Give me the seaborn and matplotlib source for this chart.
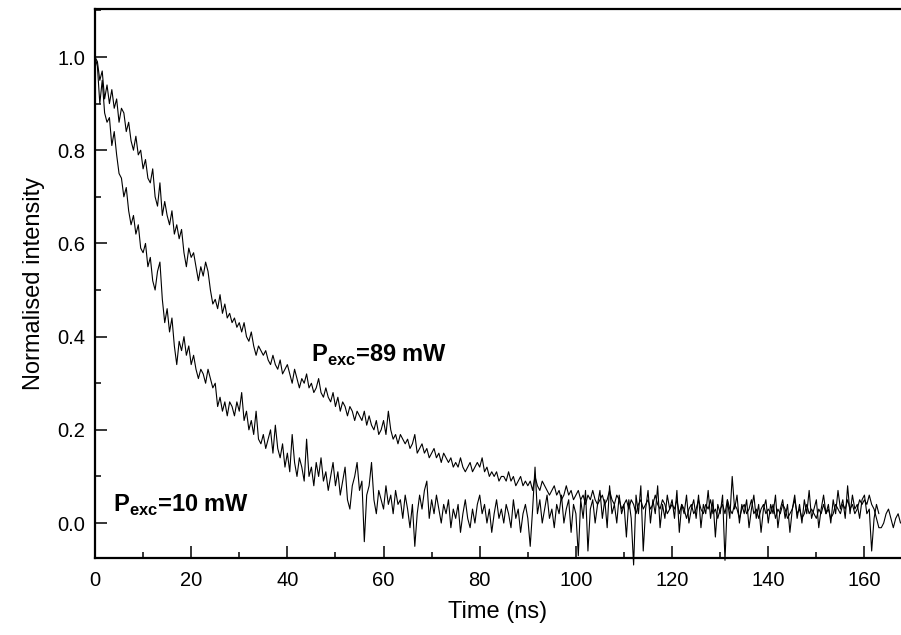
import numpy as np
import pandas as pd
import matplotlib
matplotlib.use("Agg")
import matplotlib.pyplot as plt
from matplotlib.ticker import MultipleLocator, FormatStrFormatter
import seaborn as sns

# --- dados (intensidade normalizada, passo de 0.5 ns) ---
t_step = 0.5

# P_exc = 89 mW (decaimento mais lento)
i_89mw = [
    1.00, 0.99, 0.95, 0.97, 0.91, 0.94, 0.90, 0.93, 0.89, 0.91,
    0.86, 0.89, 0.88, 0.84, 0.86, 0.82, 0.80, 0.83, 0.79, 0.80,
    0.76, 0.78, 0.74, 0.73, 0.76, 0.70, 0.68, 0.73, 0.66, 0.69,
    0.66, 0.64, 0.67, 0.62, 0.64, 0.61, 0.63, 0.58, 0.55, 0.59,
    0.57, 0.58, 0.55, 0.52, 0.55, 0.53, 0.56, 0.54, 0.50, 0.47,
    0.48, 0.46, 0.49, 0.45, 0.47, 0.44, 0.45, 0.43, 0.44, 0.42,
    0.43, 0.41, 0.43, 0.40, 0.39, 0.41, 0.38, 0.36, 0.38, 0.37,
    0.36, 0.37, 0.35, 0.34, 0.36, 0.34, 0.33, 0.35, 0.32, 0.33,
    0.34, 0.32, 0.30, 0.33, 0.31, 0.29, 0.31, 0.30, 0.32, 0.29,
    0.30, 0.28, 0.29, 0.31, 0.28, 0.27, 0.29, 0.27, 0.26, 0.28,
    0.25, 0.27, 0.24, 0.26, 0.25, 0.23, 0.25, 0.24, 0.22, 0.24,
    0.23, 0.22, 0.24, 0.21, 0.23, 0.21, 0.20, 0.22, 0.19, 0.20,
    0.22, 0.19, 0.24, 0.20, 0.18, 0.19, 0.17, 0.19, 0.18, 0.17,
    0.18, 0.16, 0.17, 0.19, 0.15, 0.16, 0.17, 0.15, 0.16, 0.14,
    0.15, 0.16, 0.14, 0.15, 0.13, 0.15, 0.14, 0.13, 0.14, 0.12,
    0.13, 0.12, 0.14, 0.12, 0.11, 0.12, 0.13, 0.11, 0.12, 0.13,
    0.12, 0.14, 0.11, 0.12, 0.10, 0.11, 0.10, 0.11, 0.09, 0.10,
    0.10, 0.09, 0.11, 0.09, 0.10, 0.08, 0.09, 0.10, 0.08, 0.09,
    0.08, 0.09, 0.07, 0.10, 0.08, 0.07, 0.09, 0.08, 0.07, 0.06,
    0.07, 0.08, 0.06, 0.07, 0.05, 0.06, 0.08, 0.06, 0.07, 0.05,
    0.06, 0.07, 0.05, 0.06, 0.04, 0.06, 0.05, 0.07, 0.05, 0.04,
    0.05, 0.06, 0.04, 0.05, 0.07, 0.05, 0.04, 0.06, 0.05, 0.03,
    0.04, 0.05, 0.03, 0.05, 0.04, 0.02, 0.04, 0.05, 0.03, 0.04,
    0.05, 0.03, 0.04, 0.06, 0.04, 0.03, 0.05, 0.04, 0.02, 0.03,
    0.04, 0.03, 0.05, 0.02, 0.04, 0.03, 0.01, 0.03, 0.04, 0.02,
    0.03, 0.05, 0.03, 0.02, 0.04, 0.03, 0.05, 0.02, 0.03, 0.01,
    0.03, 0.04, 0.02, 0.05, 0.03, 0.02, 0.04, 0.03, 0.01, 0.03,
    0.04, 0.02, 0.03, 0.05, 0.02, 0.03, 0.01, 0.03, 0.04, 0.02,
    0.03, 0.02, 0.04, 0.01, 0.03, 0.02, 0.04, 0.03, 0.01, 0.02,
    0.03, 0.05, 0.02, 0.03, 0.01, 0.02, 0.04, 0.02, 0.03, 0.02,
    0.01, 0.03, 0.02, 0.04, 0.02, 0.03, 0.01, 0.02, 0.04, 0.03,
    0.02, 0.04, 0.03, 0.05, 0.03, 0.04, 0.02, 0.03, 0.05, 0.04,
    0.05, 0.04, 0.06, 0.04, 0.03, 0.01, -0.01, -0.01, 0.00, 0.02,
    0.03, 0.01, -0.01, 0.01, 0.02, 0.00,
]

# P_exc = 10 mW (decaimento mais rapido, mais ruidoso)
i_10mw = [
    1.00, 0.98, 0.90, 0.95, 0.88, 0.86, 0.87, 0.81, 0.84, 0.79,
    0.75, 0.74, 0.70, 0.72, 0.67, 0.64, 0.66, 0.62, 0.64, 0.59,
    0.58, 0.60, 0.55, 0.57, 0.52, 0.50, 0.54, 0.56, 0.48, 0.43,
    0.46, 0.41, 0.44, 0.38, 0.34, 0.39, 0.37, 0.40, 0.36, 0.38,
    0.34, 0.36, 0.33, 0.31, 0.33, 0.32, 0.30, 0.33, 0.31, 0.29,
    0.30, 0.25, 0.27, 0.24, 0.26, 0.23, 0.26, 0.25, 0.23, 0.26,
    0.24, 0.28, 0.22, 0.24, 0.20, 0.22, 0.19, 0.24, 0.18, 0.17,
    0.19, 0.16, 0.18, 0.20, 0.15, 0.21, 0.16, 0.14, 0.17, 0.12,
    0.15, 0.11, 0.19, 0.13, 0.10, 0.14, 0.12, 0.09, 0.18, 0.10,
    0.12, 0.08, 0.13, 0.10, 0.14, 0.09, 0.11, 0.07, 0.10, 0.13,
    0.08, 0.11, 0.06, 0.09, 0.12, 0.05, 0.03, 0.08, 0.10, 0.13,
    0.07, 0.09, -0.04, 0.06, 0.08, 0.13, 0.05, 0.02, 0.07, 0.05,
    0.03, 0.08, 0.04, 0.06, 0.02, 0.07, 0.04, 0.05, 0.01, 0.06,
    0.03, -0.01, 0.04, -0.05, 0.02, 0.06, 0.03, 0.07, 0.09, 0.01,
    0.05, 0.02, 0.06, 0.03, 0.00, 0.04, 0.02, 0.05, -0.01, 0.03,
    0.01, 0.04, -0.02, 0.02, 0.05, 0.01, -0.01, 0.03, 0.00, 0.04,
    0.06, 0.02, 0.04, 0.00, 0.03, -0.02, 0.02, 0.05, 0.01, 0.03,
    0.00, 0.04, 0.02, -0.01, 0.05, 0.01, 0.03, -0.02, 0.02, 0.04,
    0.01, -0.05, 0.03, 0.12, 0.02, 0.05, 0.00, 0.03, 0.06, 0.01,
    0.03, -0.01, 0.04, 0.02, 0.06, 0.00, 0.03, 0.05, -0.02, 0.04,
    0.02, -0.07, 0.05, 0.01, 0.07, -0.06, 0.03, 0.05, 0.00, 0.04,
    0.07, 0.01, 0.05, -0.01, 0.08, 0.02, 0.04, 0.00, 0.06, 0.02,
    0.04, -0.03, 0.05, 0.01, -0.09, 0.06, 0.02, 0.08, -0.06, 0.03,
    0.07, 0.00, 0.05, 0.02, 0.08, -0.01, 0.04, 0.01, 0.06, 0.03,
    0.05, 0.01, 0.07, -0.02, 0.04, 0.02, 0.06, 0.00, 0.03, 0.05,
    0.01, 0.06, -0.01, 0.04, 0.02, 0.07, 0.01, 0.05, -0.03, 0.04,
    0.02, 0.06, -0.08, 0.05, 0.01, 0.10, 0.03, 0.06, 0.00, 0.04,
    0.02, 0.05, -0.01, 0.03, 0.06, 0.01, 0.04, -0.02, 0.03, 0.05,
    0.00, 0.04, 0.02, 0.06, -0.01, 0.03, 0.05, 0.01, 0.04, -0.02,
    0.03, 0.06, 0.01, 0.04, 0.00, 0.05, 0.02, 0.07, 0.01, 0.03,
    0.05, -0.01, 0.03, 0.06, 0.02, 0.04, 0.00, 0.05, 0.02, 0.07,
    0.03, 0.05, 0.01, 0.08, 0.02, 0.06, 0.03, 0.04, 0.01, 0.05,
    0.06, 0.02, 0.03, -0.06, 0.01, 0.04, 0.02,
]

label_89 = r'$\mathbf{P}_{\mathbf{exc}}$=89 mW'
label_10 = r'$\mathbf{P}_{\mathbf{exc}}$=10 mW'

df = pd.concat([
    pd.DataFrame({'Tempo': np.arange(len(i_89mw)) * t_step, 'Intensidade': i_89mw, 'Serie': '89'}),
    pd.DataFrame({'Tempo': np.arange(len(i_10mw)) * t_step, 'Intensidade': i_10mw, 'Serie': '10'}),
], ignore_index=True)

# --- estilo ---
sns.set_style("ticks")
plt.rcParams['font.family'] = ['Liberation Sans', 'DejaVu Sans']
plt.rcParams['mathtext.fontset'] = 'custom'
plt.rcParams['mathtext.rm'] = 'Liberation Sans'
plt.rcParams['mathtext.bf'] = 'Liberation Sans:bold'
for key in ['text.color', 'axes.labelcolor', 'xtick.color', 'ytick.color', 'axes.edgecolor']:
    plt.rcParams[key] = 'black'

fig = plt.figure(figsize=(9.01, 6.35), dpi=100)
ax = fig.add_axes([95 / 901, 1 - 558 / 635, (901 - 95) / 901, (558 - 9) / 635])

sns.lineplot(data=df, x='Tempo', y='Intensidade', units='Serie', estimator=None,
             sort=False, color='black', linewidth=0.8, ax=ax, legend=False)
for line in ax.get_lines():
    line.set_clip_on(False)

ax.set_xlim(0, 167.6)
ax.set_ylim(-0.075, 1.103)

ax.xaxis.set_major_locator(MultipleLocator(20))
ax.xaxis.set_minor_locator(MultipleLocator(10))
ax.yaxis.set_major_locator(MultipleLocator(0.2))
ax.yaxis.set_minor_locator(MultipleLocator(0.1))
ax.yaxis.set_major_formatter(FormatStrFormatter('%.1f'))

ax.tick_params(which='major', direction='in', length=8.5, width=1.1, labelsize=14.5)
ax.tick_params(which='minor', direction='in', length=4.5, width=1.1)
ax.tick_params(axis='x', which='major', pad=9)
ax.tick_params(axis='y', which='major', pad=7)

for side in ['left', 'bottom', 'top']:
    ax.spines[side].set_linewidth(1.6)
ax.spines['right'].set_visible(False)

ax.set_xlabel('Time (ns)', fontsize=17, labelpad=8)
ax.set_ylabel('Normalised intensity', fontsize=17, labelpad=9)

# Rotulos das curvas
ax.text(45.0, 0.345, label_89, fontsize=17, fontweight='bold', va='baseline', ha='left')
ax.text(3.8, 0.024, label_10, fontsize=17, fontweight='bold', va='baseline', ha='left')

plt.savefig('out.png', dpi=100)
